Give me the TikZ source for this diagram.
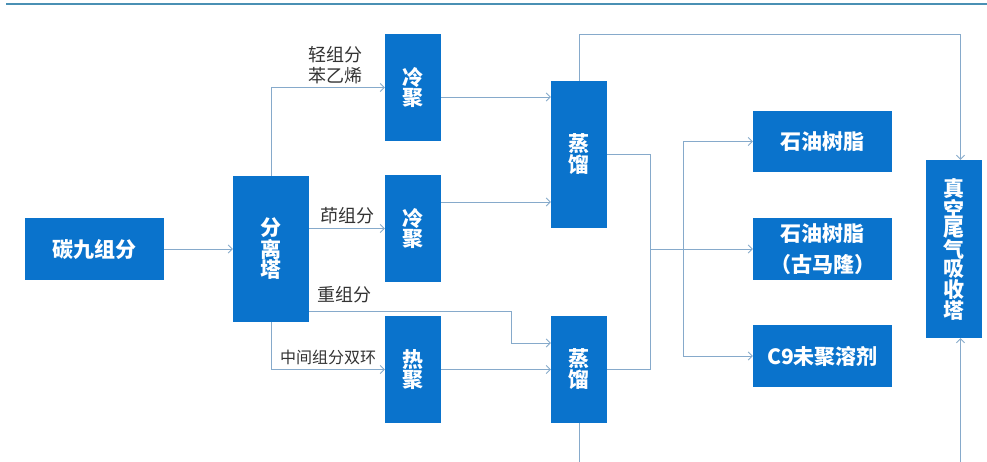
\documentclass[tikz,border=0pt]{standalone}
\usepackage{fontspec}
\setmainfont{Noto Sans CJK SC}
\usetikzlibrary{arrows.meta}
\definecolor{boxblue}{HTML}{0A73CC}
\definecolor{linecol}{HTML}{86AACB}
\definecolor{rulecol}{HTML}{4A90B4}
\definecolor{labcol}{HTML}{333333}
\begin{document}
\begin{tikzpicture}[x=1pt,y=-1pt,
  box/.style={fill=boxblue, draw=none, text=white, inner sep=0pt, font=\fontsize{21}{19}\selectfont\bfseries, align=center},
  hbox/.style={box, minimum width=139pt, minimum height=62pt},
  vbox/.style={box, minimum width=56pt},
  flow/.style={draw=linecol, line width=0.9pt},
  arr/.style={flow, -{Straight Barb[length=4pt,width=8pt]}},
  lab/.style={text=labcol, inner sep=0pt, font=\fontsize{18}{21}\selectfont, align=center}
]
\useasboundingbox (0,0) rectangle (987,461);
\clip (0,0) rectangle (987,461);
\fill[white] (0,0) rectangle (987,461);
\draw[rulecol, line width=2.5pt] (6,4) -- (987,4);

\node[hbox] (src) at (94.5,249) {碳九组分};
\node[vbox, minimum width=76pt, minimum height=146pt] (sep) at (271,249) {分\\离\\塔};
\node[vbox, minimum height=107pt] (cool1) at (413,87.5) {冷\\聚};
\node[vbox, minimum height=107pt] (cool2) at (413,228.5) {冷\\聚};
\node[vbox, minimum height=107pt] (hot) at (413,369.5) {热\\聚};
\node[vbox, minimum height=147pt] (dist1) at (579,154.5) {蒸\\馏};
\node[vbox, minimum height=107pt] (dist2) at (579,369.5) {蒸\\馏};
\node[hbox, minimum height=61pt] (res1) at (822.5,141.5) {石油树脂};
\node[hbox] (res2) at (822.5,249) {石油树脂\\[9pt]（古马隆）};
\node[hbox] (solv) at (822.5,356) {C9未聚溶剂};
\node[vbox, minimum height=178pt] (vac) at (954,249) {真\\空\\尾\\气\\吸\\收\\塔};

\coordinate (bot) at (0,480);
\coordinate (xr) at (960.5,0);
\coordinate (xm) at (650,0);
\coordinate (xb) at (683,0);
\coordinate (xh) at (511,0);
\coordinate (hy) at (0,311);
\coordinate (h2) at (0,343);
\coordinate (y97) at (0,97);
\coordinate (y202) at (0,202);
\coordinate (y34) at (0,34);

\draw[arr] (src.east) -- (sep.west);
\draw[arr] (sep.north) |- (cool1.west);
\draw[arr] (sep.east |- cool2.west) -- (cool2.west);
\draw[arr] (sep.south) |- (hot.west);
\draw[arr] (sep.east |- hy) -- (xh |- hy) -- (xh |- h2) -- (dist2.west |- h2);
\draw[arr] (hot.east) -- (dist2.west |- hot.east);
\draw[arr] (cool1.east |- y97) -- (dist1.west |- y97);
\draw[arr] (cool2.east |- y202) -- (dist1.west |- y202);
\draw[arr] (dist1.north) -- (dist1.north |- y34) -| (vac.north -| xr);
\draw[flow] (dist1.east) -- (xm |- dist1.east) -- (xm |- dist2.east) -- (dist2.east);
\draw[arr] (xm |- res2.west) -- (res2.west);
\draw[arr] (xb |- res2.west) |- (res1.west);
\draw[arr] (xb |- res2.west) |- (solv.west);
\draw[arr] (dist2.south) -- (dist2.south |- bot) -| (vac.south -| xr);

\node[lab] (l1) at (335,65.5) {轻组分\\苯乙烯};
\node[lab] (l2) at (347.5,215.5) {茚组分};
\node[lab] (l3) at (344,295) {重组分};
\node[lab, font=\fontsize{16}{18}\selectfont] (l4) at (328,357) {中间组分双环};
\end{tikzpicture}
\end{document}
